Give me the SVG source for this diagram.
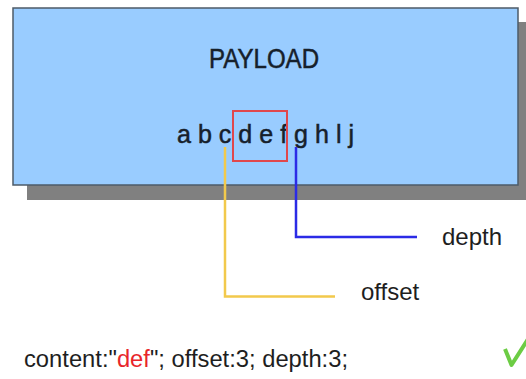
<svg xmlns="http://www.w3.org/2000/svg" width="526" height="379" viewBox="0 0 526 379">
<style>
.t{font-family:"Liberation Sans",Arial,sans-serif;fill:#1e1e1e}
.in{fill:#16202b;stroke:#16202b;stroke-width:0.5}
.box{fill:#99ccff;stroke:#4d5b68;stroke-width:1.5}
.shadow{fill:#808080}
.conn{fill:none;stroke-width:2.5;stroke-linejoin:miter}
</style>
<rect width="526" height="379" fill="#ffffff"/>
<g id="payload">
<rect class="shadow" x="27" y="22" width="499" height="178"/>
<rect class="box" x="13" y="8" width="505" height="177"/>
<text class="t in" x="209" y="68" font-size="27" textLength="110" lengthAdjust="spacingAndGlyphs">PAYLOAD</text>
<text class="t in" x="177" y="143" font-size="26" textLength="177" lengthAdjust="spacingAndGlyphs">a b c d e f g h l j</text>
<rect x="233" y="111" width="54" height="50" fill="none" stroke="#e0474c" stroke-width="2"/>
</g>
<g id="connectors">
<polyline class="conn" stroke="#f2c94c" points="225,147 225,296.5 335,296.5"/>
<polyline class="conn" stroke="#2b2be6" points="296,147 296,237 417,237"/>
</g>
<g id="depth">
<text class="t" x="442" y="245" font-size="24">depth</text>
</g>
<g id="offset">
<text class="t" x="361" y="300" font-size="24">offset</text>
</g>
<g id="rule">
<text class="t" x="24" y="367" font-size="23" textLength="324" lengthAdjust="spacingAndGlyphs">content:"<tspan style="fill:#e8252b">def</tspan>"; offset:3; depth:3;</text>
</g>
<g id="check">
<polyline points="505,349 511.5,365 528,339" fill="none" stroke="#6ccc44" stroke-width="4" stroke-linejoin="round"/>
</g>
</svg>
